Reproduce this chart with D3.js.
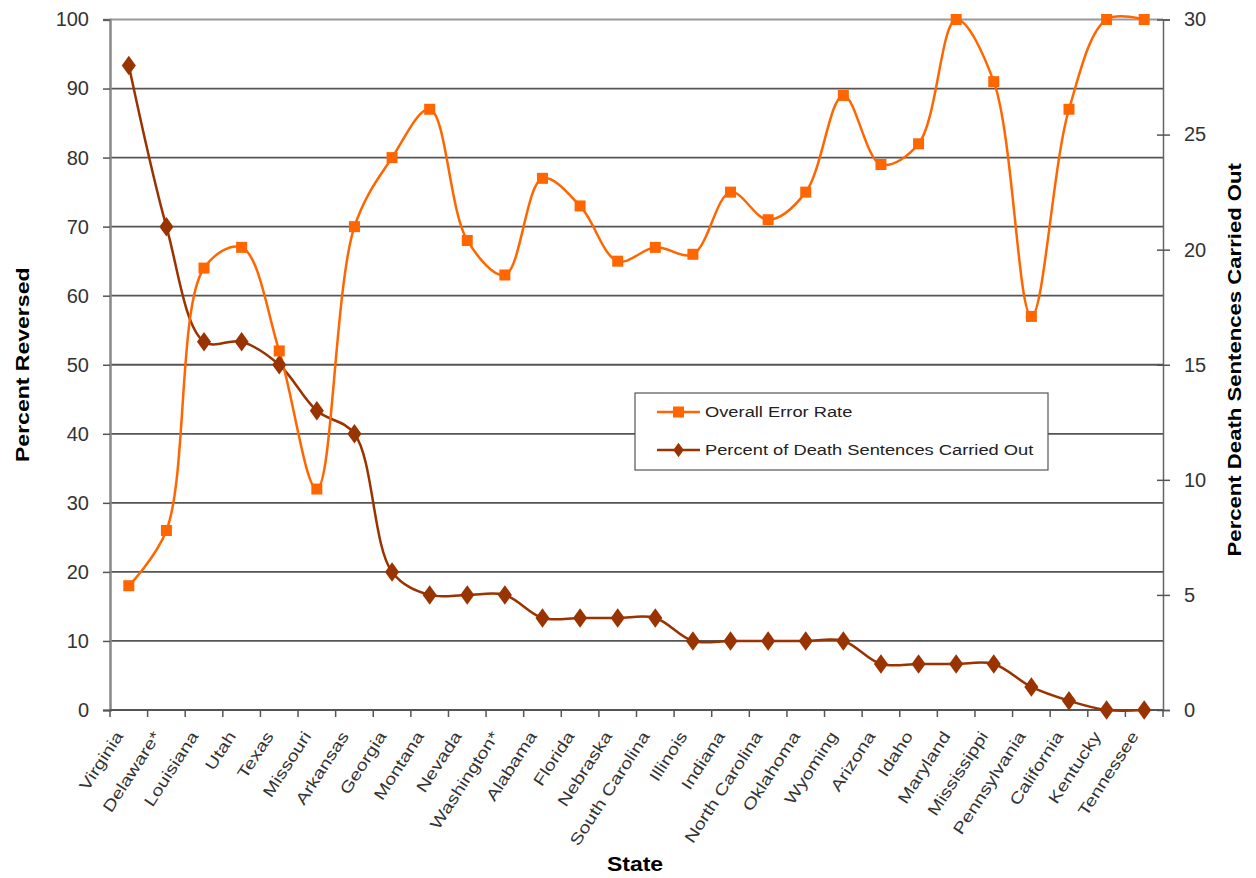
<!DOCTYPE html>
<html><head><meta charset="utf-8">
<script src="https://cdn.jsdelivr.net/npm/d3@7"></script>
<style>body{margin:0;background:#fff}svg{display:block}text{font-family:"Liberation Sans",Arial,sans-serif}</style>
</head><body><svg id="c" width="1256" height="878"></svg>
<script>
const states = ["Virginia","Delaware*","Louisiana","Utah","Texas","Missouri","Arkansas","Georgia","Montana","Nevada","Washington*","Alabama","Florida","Nebraska","South Carolina","Illinois","Indiana","North Carolina","Oklahoma","Wyoming","Arizona","Idaho","Maryland","Mississippi","Pennsylvania","California","Kentucky","Tennessee"];
const errorRate = [18,26,64,67,52,32,70,80,87,68,63,77,73,65,67,66,75,71,75,89,79,82,100,91,57,87,100,100];
const carriedOut = [28,21,16,16,15,13,12,6,5,5,5,4,4,4,4,3,3,3,3,3,2,2,2,2,1,0.4,0,0];
const leftTicks = [0,10,20,30,40,50,60,70,80,90,100];
const rightTicks = [0,5,10,15,20,25,30];
const seriesNames = ["Overall Error Rate","Percent of Death Sentences Carried Out"];

const svg = d3.select("#c");
const L = 110, R = 1163, T = 19.5, B = 710;
const x = d3.scaleBand().domain(states).range([L, R]);
const yL = d3.scaleLinear().domain([0,100]).range([B, T]);
const yR = d3.scaleLinear().domain([0,30]).range([B, T]);
const cx = s => x(s) + x.bandwidth()/2;

// gridlines
svg.append("g").selectAll("line").data(leftTicks.filter(d=>d>0)).join("line")
  .attr("x1", L).attr("x2", R).attr("y1", d=>yL(d)).attr("y2", d=>yL(d))
  .attr("stroke", d=> d===100 ? "#999" : "#555").attr("stroke-width", 1.8);

// left axis
const gl = svg.append("g").attr("transform", `translate(${L},0)`)
  .call(d3.axisLeft(yL).tickValues(leftTicks).tickSize(7).tickPadding(14));
gl.select(".domain").attr("stroke","#888").attr("stroke-width",2.5);
gl.selectAll(".tick line").attr("stroke","#555").attr("stroke-width",1.5);
gl.selectAll(".tick text").attr("font-size",20).attr("fill","#333").attr("font-family","Liberation Sans, Arial, sans-serif");

// right axis
const gr = svg.append("g").attr("transform", `translate(${R},0)`)
  .call(d3.axisRight(yR).tickValues(rightTicks).tickSize(7).tickPadding(14));
gr.select(".domain").attr("stroke","#666").attr("stroke-width",1.5);
gr.selectAll(".tick line").attr("x1",-6).attr("stroke","#555").attr("stroke-width",1.5);
gr.selectAll(".tick text").attr("font-size",20).attr("fill","#333").attr("font-family","Liberation Sans, Arial, sans-serif");

// bottom axis
const gb = svg.append("g").attr("transform", `translate(0,${B})`);
gb.append("line").attr("x1",L).attr("x2",R).attr("stroke","#555").attr("stroke-width",2);
const bounds = states.map(s=>x(s)).concat([R]);
gb.selectAll("line.t").data(bounds).join("line").attr("class","t")
  .attr("x1",d=>d).attr("x2",d=>d).attr("y1",0).attr("y2",7).attr("stroke","#555").attr("stroke-width",1.5);
gb.selectAll("text").data(states).join("text")
  .attr("transform", d=>`translate(${cx(d)-5},${26}) rotate(-57) scale(1.25,1)`)
  .attr("text-anchor","end")
  .attr("font-size",16).attr("fill","#333").text(d=>d);

// lines
const curve = d3.curveCatmullRom.alpha(0.5);
const lineE = d3.line().x((d,i)=>cx(states[i])).y(d=>yL(d)).curve(curve);
const lineC = d3.line().x((d,i)=>cx(states[i])).y(d=>yR(d)).curve(curve);
svg.append("path").attr("d", lineC(carriedOut)).attr("fill","none").attr("stroke","#993300").attr("stroke-width",2.5);
svg.append("path").attr("d", lineE(errorRate)).attr("fill","none").attr("stroke","#FF6600").attr("stroke-width",2.5);

const diamond = d3.symbol().type(d3.symbolDiamond).size(110);
svg.append("g").selectAll("path").data(carriedOut).join("path")
  .attr("d", diamond).attr("transform",(d,i)=>`translate(${cx(states[i])},${yR(d)}) scale(1.25,1)`)
  .attr("fill","#993300");
svg.append("g").selectAll("rect").data(errorRate).join("rect")
  .attr("x",(d,i)=>cx(states[i])-5.5).attr("y",d=>yL(d)-5.5).attr("width",11).attr("height",11)
  .attr("fill","#FF6600");

// axis titles
svg.append("text").attr("transform",`translate(29,${(T+B)/2}) rotate(-90) scale(1.28,1)`).attr("text-anchor","middle")
  .attr("font-size",18).attr("font-weight","bold").attr("fill","#000").text("Percent Reversed");
svg.append("text").attr("transform",`translate(1241,${(T+B)/2 - 5}) rotate(-90) scale(1.23,1)`).attr("text-anchor","middle")
  .attr("font-size",18).attr("font-weight","bold").attr("fill","#000").text("Percent Death Sentences Carried Out");
svg.append("text").attr("transform",`translate(635,871) scale(1.15,1)`).attr("text-anchor","middle")
  .attr("font-size",20).attr("font-weight","bold").attr("fill","#000").text("State");

// legend
const lg = svg.append("g").attr("transform","translate(635,393)");
lg.append("rect").attr("width",413).attr("height",77).attr("fill","#fff").attr("stroke","#555").attr("stroke-width",1.2);
const rows = [{y:19, c:"#FF6600", m:"sq"},{y:57, c:"#993300", m:"dm"}];
rows.forEach((r,i)=>{
  lg.append("line").attr("x1",22).attr("x2",65).attr("y1",r.y).attr("y2",r.y).attr("stroke",r.c).attr("stroke-width",2.5);
  if (r.m==="sq") lg.append("rect").attr("x",38).attr("y",r.y-5.5).attr("width",11).attr("height",11).attr("fill",r.c);
  else lg.append("path").attr("d",d3.symbol().type(d3.symbolDiamond).size(60)).attr("transform",`translate(43.5,${r.y}) scale(1.25,1)`).attr("fill",r.c);
  lg.append("text").attr("transform",`translate(70,${r.y}) scale(1.22,1)`).attr("dy","0.35em").attr("font-size",15).attr("fill","#222").text(seriesNames[i]);
});
</script></body></html>
